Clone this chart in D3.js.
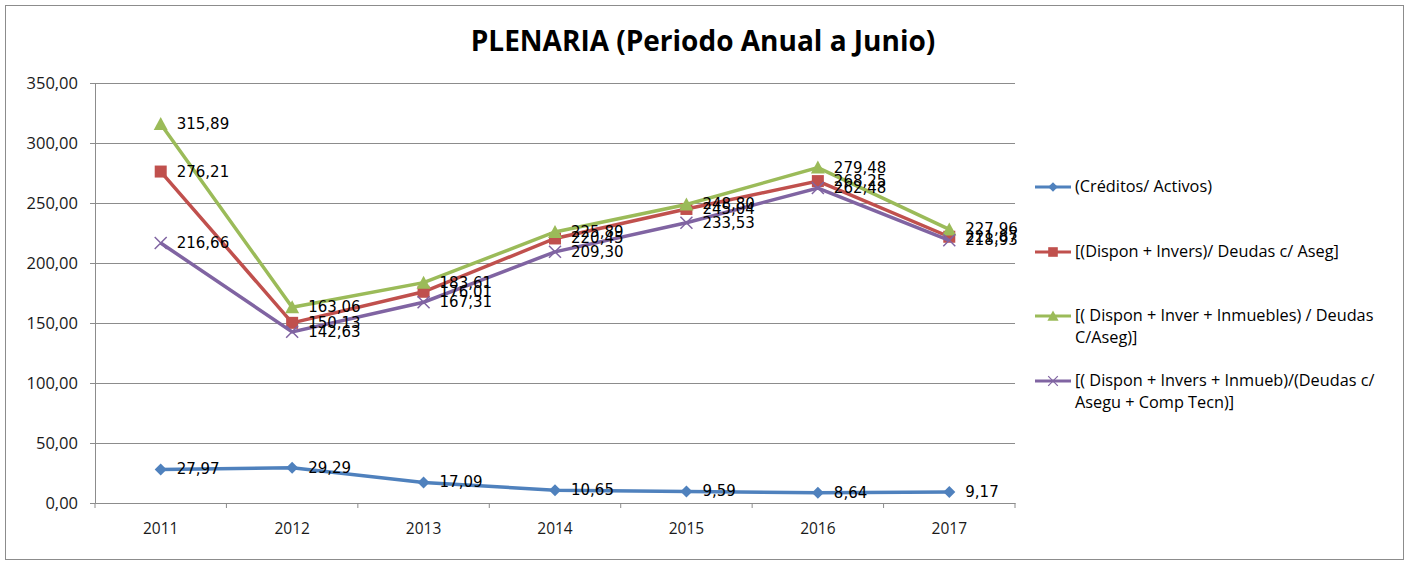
<!DOCTYPE html>
<html>
<head>
<meta charset="utf-8">
<script src="https://cdn.jsdelivr.net/npm/d3@7"></script>
<style>
  body { margin: 0; background: #fff; }
  text { font-family: "Open Sans", "DejaVu Sans", sans-serif; }
</style>
</head>
<body>
<div id="chart"></div>
<script>
// data
var years = ["2011", "2012", "2013", "2014", "2015", "2016", "2017"];
var seriesNames = [
  ["(Créditos/ Activos)"],
  ["[(Dispon + Invers)/ Deudas c/ Aseg]"],
  ["[( Dispon + Inver + Inmuebles) / Deudas", "C/Aseg)]"],
  ["[( Dispon + Invers + Inmueb)/(Deudas c/", "Asegu + Comp Tecn)]"]
];
var creditos = [27.97, 29.29, 17.09, 10.65, 9.59, 8.64, 9.17];
var disponInvers = [276.21, 150.13, 176.01, 220.45, 245.04, 268.25, 221.87];
var disponInmuebles = [315.89, 163.06, 183.61, 225.89, 248.80, 279.48, 227.96];
var disponComp = [216.66, 142.63, 167.31, 209.30, 233.53, 262.48, 218.93];
var yTicks = [0, 50, 100, 150, 200, 250, 300, 350];

var colors = ["#4F81BD", "#C0504D", "#9BBB59", "#8064A2"];
var symbols = ["diamond", "square", "triangle", "x"];
var allSeries = [creditos, disponInvers, disponInmuebles, disponComp];

var svgWidth = 1409, svgHeight = 563;
var margin = { top: 83, left: 95, right: 394, bottom: 60 };
var width = svgWidth - margin.left - margin.right;
var height = svgHeight - margin.top - margin.bottom;

var svg = d3.select("#chart").append("svg")
  .attr("width", svgWidth)
  .attr("height", svgHeight);

// outer frame
svg.append("rect")
  .attr("x", 5.5).attr("y", 5.5)
  .attr("width", 1398).attr("height", 554)
  .attr("fill", "#fff")
  .attr("stroke", "#8c8c8c");

svg.append("text")
  .attr("x", 703).attr("y", 51)
  .attr("text-anchor", "middle")
  .attr("font-size", 28)
  .attr("font-weight", "bold")
  .attr("fill", "#000")
  .text("PLENARIA (Periodo Anual a Junio)");

var chartGroup = svg.append("g")
  .attr("transform", `translate(${margin.left}, ${margin.top})`);

var x = d3.scaleBand().domain(years).range([0, width]);
var y = d3.scaleLinear().domain([0, 350]).range([height, 0]);

// gridlines
chartGroup.selectAll(".grid")
  .data(yTicks.filter(d => d > 0))
  .enter().append("line")
  .attr("x1", 0).attr("x2", width)
  .attr("y1", d => Math.round(y(d)) + 0.5)
  .attr("y2", d => Math.round(y(d)) + 0.5)
  .attr("stroke", "#8c8c8c");

// axes
var leftAxis = d3.axisLeft(y).tickValues(yTicks)
  .tickFormat(d => d3.format(".2f")(d).replace(".", ","))
  .tickSize(5).tickPadding(12);
var bottomAxis = d3.axisBottom(x).tickSize(0).tickPadding(20);

var gy = chartGroup.append("g").call(leftAxis);
var gx = chartGroup.append("g").attr("transform", `translate(0, ${height})`).call(bottomAxis);
gy.attr("font-size", 16.5).attr("font-family", "'Open Sans', sans-serif");
gx.attr("font-size", 15.5).attr("font-family", "'Open Sans', sans-serif");
[gx, gy].forEach(function(g) {
  g.selectAll("path, line").attr("stroke", "#8c8c8c");
  g.selectAll("text").attr("fill", "#1a1a1a");
});
// x ticks between categories
gx.selectAll(".sep")
  .data(d3.range(years.length + 1))
  .enter().append("line")
  .attr("x1", d => d * x.bandwidth()).attr("x2", d => d * x.bandwidth())
  .attr("y1", 0).attr("y2", 5)
  .attr("stroke", "#8c8c8c");

var line = d3.line()
  .x((d, i) => x(years[i]) + x.bandwidth() / 2)
  .y(d => y(d));

function marker(g, type, color) {
  if (type === "diamond") {
    g.append("path").attr("d", "M0,-6L6,0L0,6L-6,0Z").attr("fill", color);
  } else if (type === "square") {
    g.append("rect").attr("x", -6).attr("y", -6).attr("width", 12).attr("height", 12).attr("fill", color);
  } else if (type === "triangle") {
    g.append("path").attr("d", "M0,-7L7,6L-7,6Z").attr("fill", color);
  } else {
    g.append("path").attr("d", "M-6,-6L6,6M-6,6L6,-6").attr("stroke", color).attr("stroke-width", 1.5).attr("fill", "none");
  }
}

allSeries.forEach(function(values, s) {
  chartGroup.append("path")
    .datum(values)
    .attr("d", line)
    .attr("fill", "none")
    .attr("stroke", colors[s])
    .attr("stroke-width", 3.5);

  values.forEach(function(v, i) {
    var g = chartGroup.append("g")
      .attr("transform", `translate(${x(years[i]) + x.bandwidth() / 2}, ${y(v)})`);
    marker(g, symbols[s], colors[s]);
  });
});

// data labels on top
allSeries.forEach(function(values, s) {
  chartGroup.selectAll(".lbl" + s)
    .data(values)
    .enter().append("text")
    .attr("x", (d, i) => x(years[i]) + x.bandwidth() / 2 + 16)
    .attr("y", d => y(d) + 5)
    .attr("font-size", 15)
    .attr("fill", "#000")
    .style("font-family", "'DejaVu Sans', sans-serif")
    .text(d => d3.format(".2f")(d).replace(".", ","));
});

// legend
var legendY = [187, 252, 316, 381];
var legend = svg.append("g");
seriesNames.forEach(function(lines, s) {
  var g = legend.append("g").attr("transform", `translate(1035, ${legendY[s]})`);
  g.append("line").attr("x1", 0).attr("x2", 36).attr("y1", 0).attr("y2", 0)
    .attr("stroke", colors[s]).attr("stroke-width", 3);
  var m = g.append("g").attr("transform", "translate(18,0) scale(0.8)");
  marker(m, symbols[s], colors[s]);
  lines.forEach(function(t, k) {
    g.append("text")
      .attr("x", 40).attr("y", 5 + k * 22)
      .attr("font-size", 16.3)
      .attr("fill", "#000")
      .text(t);
  });
});
</script>
</body>
</html>
